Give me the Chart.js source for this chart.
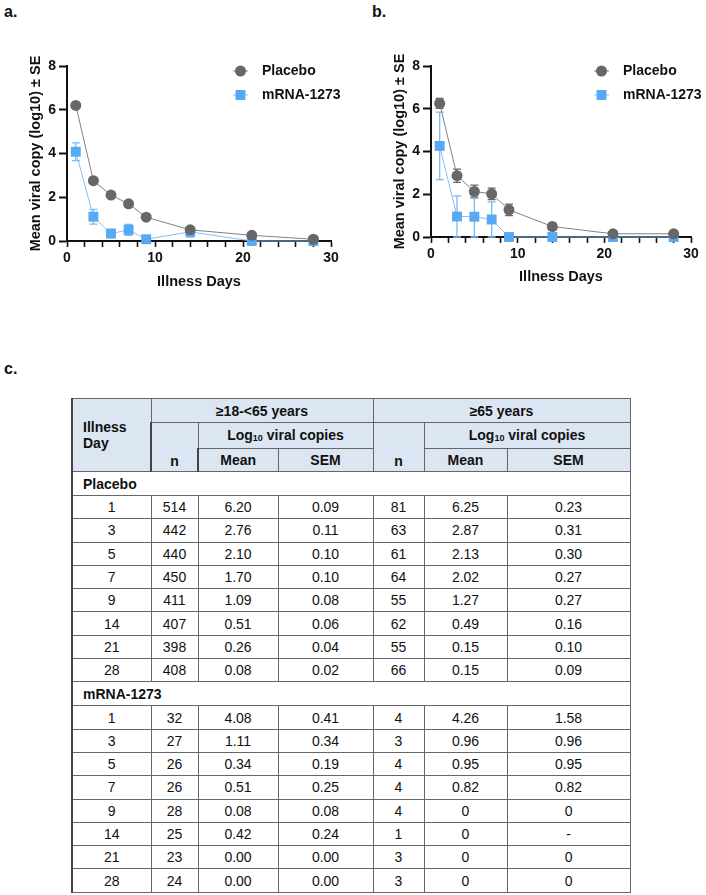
<!DOCTYPE html>
<html>
<head>
<meta charset="utf-8">
<script src="https://cdn.jsdelivr.net/npm/chart.js@4.4.0/dist/chart.umd.min.js"></script>
<style>
  body { margin: 0; background: #fff; font-family: "Liberation Sans", Arial, sans-serif; color: #111; }
  #page { position: relative; width: 706px; height: 895px; overflow: hidden; }
  .lbl { position: absolute; font-weight: bold; font-size: 16px; line-height: 16px; }
  .box { position: absolute; top: 0; width: 353px; height: 300px; }
  #tbl { position: absolute; left: 71px; top: 398px; width: 558px; border-collapse: collapse; table-layout: fixed; font-size: 14px; }
  #tbl td, #tbl th { border: 1px solid #666; padding: 0; text-align: center; vertical-align: middle; line-height: 16px; }
  #tbl th { background: #dce6f2; font-weight: bold; }
  #tbl tr { height: 23.3px; }
  #tbl tr.h1 { height: 24px; }
  #tbl tr.h2 { height: 26px; }
  #tbl tr.h3 { height: 23px; }
  #tbl tr.grp { height: 24px; }
  #tbl th.day { text-align: left; padding-left: 10px; }
  #tbl th.nn { vertical-align: bottom; padding-bottom: 2px; }
  #tbl td.grp { text-align: left; padding-left: 10px; font-weight: bold; }
  #tbl td:first-child, #tbl th:first-child { border-left: 2px solid #444; }
  #tbl sub { font-size: 9px; vertical-align: baseline; position: relative; top: 1px; }
</style>
</head>
<body>
<div id="page">
  <div class="lbl" style="left:4px;top:4px">a.</div>
  <div class="lbl" style="left:372px;top:4px">b.</div>
  <div class="lbl" style="left:4px;top:361px">c.</div>
  <div class="box" style="left:0"><canvas id="chartA" width="353" height="300"></canvas></div>
  <div class="box" style="left:353px"><canvas id="chartB" width="353" height="300"></canvas></div>
  <table id="tbl"></table>
</div>
<script>
// illness days shared by both panels and the table
const days = [1, 3, 5, 7, 9, 14, 21, 28];
const ageGroups = ['≥18-<65 years', '≥65 years'];
const armNames = ['Placebo', 'mRNA-1273'];

// ≥18-<65 years (panel a)
const placeboNA = [514, 442, 440, 450, 411, 407, 398, 408];
const placeboMeanA = [6.20, 2.76, 2.10, 1.70, 1.09, 0.51, 0.26, 0.08];
const placeboSemA = [0.09, 0.11, 0.10, 0.10, 0.08, 0.06, 0.04, 0.02];
const mrnaNA = [32, 27, 26, 26, 28, 25, 23, 24];
const mrnaMeanA = [4.08, 1.11, 0.34, 0.51, 0.08, 0.42, 0.00, 0.00];
const mrnaSemA = [0.41, 0.34, 0.19, 0.25, 0.08, 0.24, 0.00, 0.00];

// ≥65 years (panel b)
const placeboNB = [81, 63, 61, 64, 55, 62, 55, 66];
const placeboMeanB = [6.25, 2.87, 2.13, 2.02, 1.27, 0.49, 0.15, 0.15];
const placeboSemB = [0.23, 0.31, 0.30, 0.27, 0.27, 0.16, 0.10, 0.09];
const mrnaNB = [4, 3, 4, 4, 4, 1, 3, 3];
const mrnaMeanB = [4.26, 0.96, 0.95, 0.82, 0, 0, 0, 0];
const mrnaSemB = [1.58, 0.96, 0.95, 0.82, 0, null, 0, 0];

const xTicks = [0, 10, 20, 30];
const yTicks = [0, 2, 4, 6, 8];

const FONT = '"Liberation Sans", Arial, sans-serif';
const GREY = '#676767';
const BLUE = '#57a9f4';

// SE whiskers, drawn under the markers
const errorBars = {
  id: 'errorBars',
  beforeDatasetsDraw(chart) {
    const ctx = chart.ctx;
    const ys = chart.scales.y;
    chart.data.datasets.forEach((ds, i) => {
      const meta = chart.getDatasetMeta(i);
      ctx.save();
      ctx.strokeStyle = ds.errorColor;
      ctx.lineWidth = 1.3;
      meta.data.forEach((pt, j) => {
        const e = ds.errors[j];
        if (e == null || e === 0) return;
        const v = ds.data[j].y;
        const top = ys.getPixelForValue(v + e);
        const bot = ys.getPixelForValue(v - e);
        ctx.beginPath();
        ctx.moveTo(pt.x, top); ctx.lineTo(pt.x, bot);
        ctx.moveTo(pt.x - 4, top); ctx.lineTo(pt.x + 4, top);
        ctx.moveTo(pt.x - 4, bot); ctx.lineTo(pt.x + 4, bot);
        ctx.stroke();
      });
      ctx.restore();
    });
  }
};

// legend with a short line through the symbol
const lineLegend = {
  id: 'lineLegend',
  afterDraw(chart, args, opts) {
    const ctx = chart.ctx;
    chart.data.datasets.forEach((ds, i) => {
      const y = opts.y + i * opts.gap;
      const cx = opts.x + 7.5;
      ctx.save();
      ctx.strokeStyle = ds.borderColor;
      ctx.lineWidth = 1;
      ctx.beginPath(); ctx.moveTo(opts.x, y); ctx.lineTo(opts.x + 15, y); ctx.stroke();
      ctx.fillStyle = ds.pointBackgroundColor;
      if (ds.pointStyle === 'rect') {
        const s = ds.pointRadius * Math.SQRT1_2;
        ctx.fillRect(cx - s, y - s, 2 * s, 2 * s);
      } else {
        ctx.beginPath(); ctx.arc(cx, y, ds.pointRadius, 0, Math.PI * 2); ctx.fill();
      }
      ctx.fillStyle = '#111';
      ctx.font = 'bold 14px ' + FONT;
      ctx.textBaseline = 'middle';
      ctx.fillText(ds.label, opts.x + 29, y);
      ctx.restore();
    });
  }
};

function makeDatasets(pMean, pSem, mMean, mSem) {
  return [
    {
      label: armNames[0],
      data: days.map((d, i) => ({ x: d, y: pMean[i] })),
      errors: pSem,
      errorColor: GREY,
      borderColor: '#808080',
      borderWidth: 1,
      pointStyle: 'circle',
      pointRadius: 5.5,
      pointHoverRadius: 5.5,
      pointBackgroundColor: GREY,
      pointBorderWidth: 0,
      tension: 0,
      clip: false
    },
    {
      label: armNames[1],
      data: days.map((d, i) => ({ x: d, y: mMean[i] })),
      errors: mSem,
      errorColor: '#7ab9f2',
      borderColor: '#86c0f5',
      borderWidth: 1,
      pointStyle: 'rect',
      pointRadius: 7,
      pointHoverRadius: 7,
      pointBackgroundColor: BLUE,
      pointBorderWidth: 0,
      tension: 0,
      clip: false
    }
  ];
}

function makeOptions(pad, xHeight, legendX) {
  const tickFont = { family: FONT, size: 14, weight: 'bold' };
  const titleFont = { family: FONT, size: 14.5, weight: 'bold' };
  return {
    responsive: false,
    animation: false,
    layout: { padding: pad },
    plugins: {
      legend: { display: false },
      tooltip: { enabled: false },
      lineLegend: { x: legendX, y: 71, gap: 24 }
    },
    scales: {
      x: {
        type: 'linear',
        min: xTicks[0],
        max: xTicks[xTicks.length - 1],
        afterFit(s) { s.height = xHeight; s.paddingLeft = 0; s.paddingRight = 0; },
        ticks: {
          stepSize: 2,
          autoSkip: false,
          maxRotation: 0,
          padding: 3,
          color: '#111',
          font: tickFont,
          callback: v => xTicks.includes(v) ? v : ''
        },
        grid: { drawOnChartArea: false, tickLength: 6, tickColor: '#111', tickWidth: 1.6 },
        border: { color: '#111', width: 2 },
        title: { display: true, text: 'Illness Days', color: '#111', font: titleFont, padding: 0 }
      },
      y: {
        min: yTicks[0],
        max: yTicks[yTicks.length - 1],
        afterFit(s) { s.width = 67; s.paddingTop = 0; s.paddingBottom = 0; },
        ticks: {
          stepSize: 2,
          padding: 3,
          color: '#111',
          font: tickFont,
          callback: v => yTicks.includes(v) ? v : ''
        },
        grid: { drawOnChartArea: false, tickLength: 8, tickColor: '#111', tickWidth: 2 },
        border: { color: '#111', width: 2 },
        title: { display: true, text: 'Mean viral copy (log10) ± SE', color: '#111', font: titleFont, padding: { top: 27, bottom: 0 } }
      }
    }
  };
}

new Chart(document.getElementById('chartA'), {
  type: 'line',
  data: { datasets: makeDatasets(placeboMeanA, placeboSemA, mrnaMeanA, mrnaSemA) },
  options: makeOptions({ left: 0, right: 22, top: 66, bottom: 9 }, 50, 233),
  plugins: [errorBars, lineLegend]
});

new Chart(document.getElementById('chartB'), {
  type: 'line',
  data: { datasets: makeDatasets(placeboMeanB, placeboSemB, mrnaMeanB, mrnaSemB) },
  options: makeOptions({ left: 11, right: 15, top: 66, bottom: 14 }, 49, 241),
  plugins: [errorBars, lineLegend]
});

// table c
function esc(s) { return s.replace(/&/g, '&amp;').replace(/</g, '&lt;').replace(/>/g, '&gt;'); }
function fmt(v, plain) {
  if (v === null) return '-';
  if (plain && v === 0) return '0';
  return v.toFixed(2);
}
const colWidths = [79, 47, 80, 95, 51, 83, 123];
let html = '<colgroup>' + colWidths.map(w => '<col style="width:' + w + 'px">').join('') + '</colgroup>';
html += '<tr class="h1"><th rowspan="3" class="day">Illness<br>Day</th>' +
  ageGroups.map(g => '<th colspan="3">' + esc(g) + '</th>').join('') + '</tr>';
html += '<tr class="h2">' + ageGroups.map(() => '<th rowspan="2" class="nn">n</th><th colspan="2">Log<sub>10</sub> viral copies</th>').join('') + '</tr>';
html += '<tr class="h3">' + ageGroups.map(() => '<th>Mean</th><th>SEM</th>').join('') + '</tr>';
const arms = [
  { name: armNames[0], groups: [[placeboNA, placeboMeanA, placeboSemA, false], [placeboNB, placeboMeanB, placeboSemB, false]] },
  { name: armNames[1], groups: [[mrnaNA, mrnaMeanA, mrnaSemA, false], [mrnaNB, mrnaMeanB, mrnaSemB, true]] }
];
arms.forEach(arm => {
  html += '<tr class="grp"><td colspan="7" class="grp">' + arm.name + '</td></tr>';
  days.forEach((d, i) => {
    html += '<tr><td>' + d + '</td>' + arm.groups.map(([n, m, s, plain]) =>
      '<td>' + n[i] + '</td><td>' + fmt(m[i], plain) + '</td><td>' + fmt(s[i], plain) + '</td>').join('') + '</tr>';
  });
});
document.getElementById('tbl').innerHTML = html;
</script>
</body>
</html>
